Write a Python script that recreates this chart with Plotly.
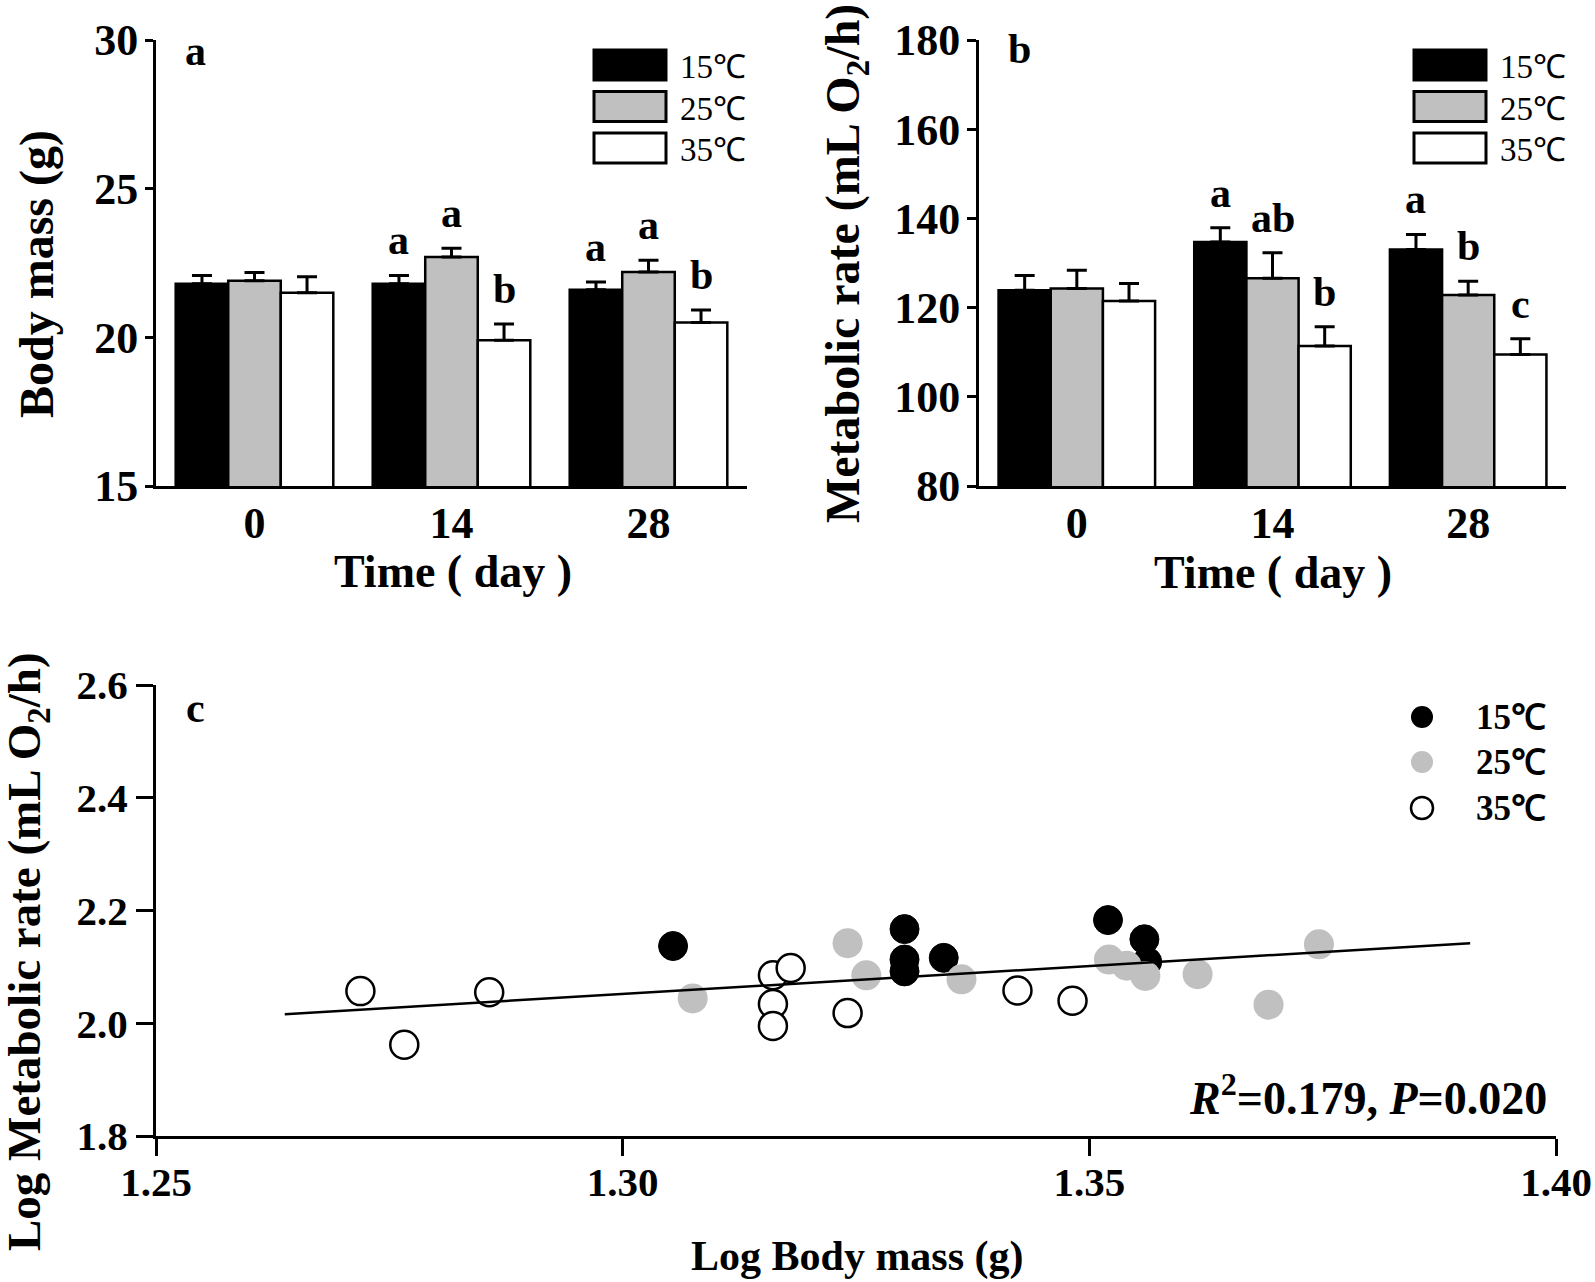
import plotly.graph_objects as go

# ---------------- data ----------------
days = ["0", "14", "28"]
temps = ["15℃", "25℃", "35℃"]

mass_15 = [21.8, 21.8, 21.6]
mass_25 = [21.9, 22.7, 22.2]
mass_35 = [21.5, 19.9, 20.5]
mass_err_15 = [0.28, 0.28, 0.26]
mass_err_25 = [0.28, 0.30, 0.39]
mass_err_35 = [0.54, 0.55, 0.42]
mass_letters_15 = ["", "a", "a"]
mass_letters_25 = ["", "a", "a"]
mass_letters_35 = ["", "b", "b"]

mr_15 = [123.9, 134.7, 133.0]
mr_25 = [124.3, 126.6, 122.8]
mr_35 = [121.5, 111.4, 109.5]
mr_err_15 = [3.3, 3.2, 3.4]
mr_err_25 = [4.1, 5.7, 3.1]
mr_err_35 = [3.9, 4.3, 3.5]
mr_letters_15 = ["", "a", "a"]
mr_letters_25 = ["", "ab", "b"]
mr_letters_35 = ["", "b", "c"]

logm_15 = [1.3054, 1.3302, 1.3302, 1.3302, 1.3344, 1.3520, 1.3559, 1.3562]
logr_15 = [2.137, 2.167, 2.113, 2.092, 2.116, 2.183, 2.149, 2.109]
logm_25 = [1.3075, 1.3241, 1.3261, 1.3363, 1.3521, 1.3540, 1.3560, 1.3616, 1.3692, 1.3746]
logr_25 = [2.044, 2.142, 2.085, 2.078, 2.113, 2.102, 2.084, 2.087, 2.033, 2.140]
logm_35 = [1.2719, 1.2766, 1.2857, 1.3161, 1.3161, 1.3161, 1.3180, 1.3241, 1.3423, 1.3482]
logr_35 = [2.057, 1.962, 2.055, 2.085, 2.034, 1.995, 2.098, 2.018, 2.058, 2.040]
fit_x = [1.2638, 1.3908]
fit_y = [2.016, 2.142]
stat_text = "<b><i>R</i><sup>2</sup>=0.179, <i>P</i>=0.020</b>"

# ---------------- style ----------------
W, H = 1595, 1282
FONT = "Liberation Serif, Times New Roman, serif"
BLACK, GRAY, WHITE = "#000000", "#c0c0c0", "#ffffff"
bar_fills = [BLACK, GRAY, WHITE]
BARGAP = 0.2


def px(x):
    return x / W


def py(y):
    return 1 - y / H


fig = go.Figure()

panels = [
    dict(xa="x", ya="y", vals=[mass_15, mass_25, mass_35],
         errs=[mass_err_15, mass_err_25, mass_err_35],
         letters=[mass_letters_15, mass_letters_25, mass_letters_35]),
    dict(xa="x2", ya="y2", vals=[mr_15, mr_25, mr_35],
         errs=[mr_err_15, mr_err_25, mr_err_35],
         letters=[mr_letters_15, mr_letters_25, mr_letters_35]),
]

annotations = []
bar_w = (1 - BARGAP) / 3
for p in panels:
    for k in range(3):
        fig.add_trace(go.Bar(
            x=list(range(len(days))), y=p["vals"][k], name=temps[k],
            xaxis=p["xa"], yaxis=p["ya"], showlegend=False,
            marker=dict(color=bar_fills[k], line=dict(color=BLACK, width=2.5)),
            error_y=dict(type="data", symmetric=False, array=p["errs"][k],
                         arrayminus=[0] * 3, color=BLACK, thickness=3, width=10),
        ))
        for i in range(len(days)):
            if p["letters"][k][i]:
                annotations.append(dict(
                    x=i + (k - 1) * bar_w, y=p["vals"][k][i] + p["errs"][k][i],
                    xref=p["xa"], yref=p["ya"], text="<b>%s</b>" % p["letters"][k][i],
                    showarrow=False, yanchor="bottom", yshift=10,
                    font=dict(family=FONT, size=42, color=BLACK)))

# scatter panel
fig.add_trace(go.Scatter(x=logm_15, y=logr_15, mode="markers", xaxis="x3", yaxis="y3",
                         showlegend=False,
                         marker=dict(size=29, color=BLACK, line=dict(color=BLACK, width=1))))
fig.add_trace(go.Scatter(x=logm_25, y=logr_25, mode="markers", xaxis="x3", yaxis="y3",
                         showlegend=False,
                         marker=dict(size=30, color=GRAY, line=dict(width=0))))
fig.add_trace(go.Scatter(x=logm_35, y=logr_35, mode="markers", xaxis="x3", yaxis="y3",
                         showlegend=False,
                         marker=dict(size=28, color=WHITE, line=dict(color=BLACK, width=2.5))))
fig.add_trace(go.Scatter(x=fit_x, y=fit_y, mode="lines", xaxis="x3", yaxis="y3",
                         showlegend=False, line=dict(color=BLACK, width=2.5)))

tickfont_bar = dict(family=FONT, size=44, color=BLACK, weight="bold")
tickfont_c = dict(family=FONT, size=41, color=BLACK, weight="bold")
ax_common = dict(showline=True, linecolor=BLACK, linewidth=3, showgrid=False,
                 zeroline=False, tickcolor=BLACK, automargin=False)

layout_axes = dict(
    xaxis=dict(domain=[px(156), px(747)], range=[-0.5, 2.5], anchor="y",
               tickvals=[0, 1, 2], ticktext=days, ticks="", tickfont=tickfont_bar,
               ticklabelstandoff=-4, **ax_common),
    yaxis=dict(domain=[py(486), py(40)], range=[15, 30], anchor="x",
               tickvals=[15, 20, 25, 30], ticks="outside", ticklen=8, tickwidth=3,
               tickfont=tickfont_bar, ticklabelstandoff=-2, **ax_common),
    xaxis2=dict(domain=[px(979), px(1566)], range=[-0.5, 2.5], anchor="y2",
                tickvals=[0, 1, 2], ticktext=days, ticks="", tickfont=tickfont_bar,
                ticklabelstandoff=-4, **ax_common),
    yaxis2=dict(domain=[py(486), py(40)], range=[80, 180], anchor="x2",
                tickvals=[80, 100, 120, 140, 160, 180], ticks="outside", ticklen=9,
                tickwidth=3, tickfont=tickfont_bar, ticklabelstandoff=-2, **ax_common),
    xaxis3=dict(domain=[px(156), px(1556)], range=[1.25, 1.40], anchor="y3",
                tickvals=[1.25, 1.30, 1.35, 1.40], ticktext=["1.25", "1.30", "1.35", "1.40"],
                ticks="outside", ticklen=17, tickwidth=2.5, tickfont=tickfont_c,
                ticklabelstandoff=-9, **ax_common),
    yaxis3=dict(domain=[py(1136), py(685)], range=[1.8, 2.6], anchor="x3",
                tickvals=[1.8, 2.0, 2.2, 2.4, 2.6], ticktext=["1.8", "2.0", "2.2", "2.4", "2.6"],
                ticks="outside", ticklen=17, tickwidth=2.5, tickfont=tickfont_c,
                **ax_common),
)


def text_ann(x, y, text, size, angle=0, xanchor="center", yanchor="middle"):
    return dict(x=px(x), y=py(y), xref="paper", yref="paper", text=text, showarrow=False,
                textangle=angle, xanchor=xanchor, yanchor=yanchor,
                font=dict(family=FONT, size=size, color=BLACK))


# axis titles and panel labels
annotations += [
    text_ann(37, 274, "<b>Body mass (g)</b>", 48, angle=-90),
    text_ann(453, 571, "<b>Time ( day )</b>", 46),
    text_ann(846, 264, "<b>Metabolic rate (mL O<sub>2</sub>/h)</b>", 48, angle=-90),
    text_ann(1273, 572, "<b>Time ( day )</b>", 46),
    text_ann(27, 952, "<b>Log Metabolic rate (mL O<sub>2</sub>/h)</b>", 47, angle=-90),
    text_ann(857, 1256, "<b>Log Body mass (g)</b>", 42),
    text_ann(195, 51, "<b>a</b>", 42),
    text_ann(1019, 49, "<b>b</b>", 42),
    text_ann(195, 708, "<b>c</b>", 42),
    text_ann(1549, 1095, stat_text, 46, xanchor="right"),
]

# legends for bar panels
shapes = []
leg_y = [65, 106.5, 148]
for x0 in (594, 1414):
    for k in range(3):
        shapes.append(dict(type="rect", xref="paper", yref="paper",
                           x0=px(x0), x1=px(x0 + 72), y0=py(leg_y[k] + 15), y1=py(leg_y[k] - 15),
                           fillcolor=bar_fills[k], line=dict(color=BLACK, width=3)))
        annotations.append(text_ann(x0 + 84, leg_y[k] + 2, temps[k], 33, xanchor="left"))

# legend for scatter panel
leg_c_y = [717, 762, 808]
sc_fill = [BLACK, GRAY, WHITE]
sc_line = [BLACK, GRAY, BLACK]
for k in range(3):
    r = 11
    shapes.append(dict(type="circle", xref="paper", yref="paper",
                       x0=px(1422 - r), x1=px(1422 + r), y0=py(leg_c_y[k] + r), y1=py(leg_c_y[k] - r),
                       fillcolor=sc_fill[k], line=dict(color=sc_line[k], width=2.5 if k == 2 else 0)))
    annotations.append(text_ann(1474, leg_c_y[k], "<b>%s</b>" % temps[k], 35, xanchor="left"))

fig.update_layout(
    width=W, height=H, margin=dict(l=0, r=0, t=0, b=0, autoexpand=False),
    paper_bgcolor="white", plot_bgcolor="white",
    barmode="group", bargap=BARGAP, bargroupgap=0,
    font=dict(family=FONT, color=BLACK),
    annotations=annotations, shapes=shapes,
    **layout_axes,
)

fig.write_html("out.html", config={"displayModeBar": False},
               post_script="document.body.style.margin='0px';document.body.style.padding='0px';")
